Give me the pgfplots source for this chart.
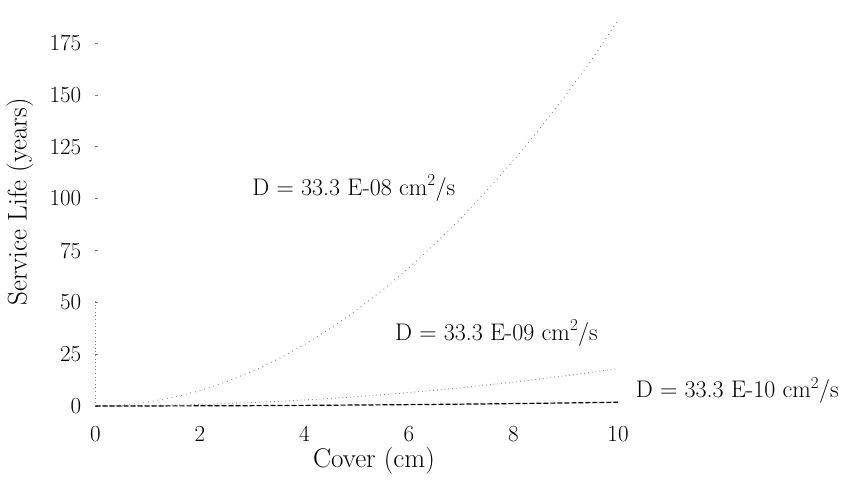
\documentclass[border=0pt]{standalone}
\usepackage{pgfplots}
\pgfplotsset{compat=1.18}
\begin{document}
\begin{tikzpicture}
\useasboundingbox (0,0) rectangle (862pt,480pt);
\begin{axis}[
  at={(95.5pt,67.8pt)}, anchor=south west,
  scale only axis, width=522.5pt, height=410.7pt,
  xmin=0, xmax=10, ymin=-3, ymax=195,
  axis line style={draw=none},
  xtick={0,2,4,6,8,10},
  ytick={0,25,50,75,100,125,150,175},
  ytick pos=left, xtick pos=bottom,
  xtick style={draw=none},
  ytick style={gray, line width=0.6pt},
  tick align=inside, major tick length=3pt,
  /pgf/number format/assume math mode=true,
  ticklabel style={font=\fontsize{23}{27}\selectfont},
  yticklabel style={inner sep=0pt, anchor=east, xshift=-14pt},
  xticklabel style={inner sep=0pt, anchor=north, yshift=-14pt},
  xlabel={Cover (cm)},
  ylabel={Service Life (years)},
  every axis x label/.style={at={(axis description cs:0.533,-0.1188)}, anchor=center, font=\fontsize{27}{32}\selectfont},
  every axis y label/.style={at={(axis description cs:-0.1445,0.512)}, rotate=90, anchor=center, font=\fontsize{27}{32}\selectfont},
  clip=false,
]
% D = 33.3E-08
\addplot[gray!90, line width=1pt, dash pattern=on 0.8pt off 4pt] coordinates {
(0,0) (0.5,0.46) (1,1.85) (1.5,4.2) (2,7.4) (2.5,11.6) (3,16.7) (3.5,22.7)
(4,29.6) (4.5,37.5) (5,46.3) (5.5,56.0) (6,66.6) (6.5,78.2) (7,90.7)
(7.5,104.1) (8,118.4) (8.5,133.7) (9,149.9) (9.5,167.0) (10,186.0)};
% D = 33.3E-09
\addplot[gray!90, line width=1pt, dash pattern=on 0.8pt off 3pt] coordinates {
(0,0) (0.5,0.05) (1,0.18) (1.5,0.41) (2,0.72) (2.5,1.13) (3,1.62) (3.5,2.21)
(4,2.88) (4.5,3.65) (5,4.5) (5.5,5.45) (6,6.48) (6.5,7.61) (7,8.82)
(7.5,10.13) (8,11.52) (8.5,13.0) (9,14.58) (9.5,16.25) (10,18.0)};
% D = 33.3E-10
\addplot[black, line width=1.2pt, dash pattern=on 5pt off 2pt] coordinates {
(0,0) (1,0.02) (2,0.07) (3,0.16) (4,0.29) (5,0.45) (6,0.65) (7,0.88)
(8,1.15) (9,1.46) (10,1.8)};
% faint vertical trace at x = 0
\addplot[gray, line width=0.6pt, dash pattern=on 0.6pt off 3pt] coordinates {(0,0) (0,52)};
\node[anchor=base west, inner sep=0pt, font=\fontsize{24}{28}\selectfont] at (axis cs:3.0,101.7) {D = 33.3 E-08 cm\textsuperscript{2}/s};
\node[anchor=base west, inner sep=0pt, font=\fontsize{24}{28}\selectfont] at (axis cs:5.73,31.8) {D = 33.3 E-09 cm\textsuperscript{2}/s};
\node[anchor=base west, inner sep=0pt, font=\fontsize{24}{28}\selectfont] at (axis cs:10.34,3.9) {D = 33.3 E-10 cm\textsuperscript{2}/s};
\end{axis}
\end{tikzpicture}
\end{document}
